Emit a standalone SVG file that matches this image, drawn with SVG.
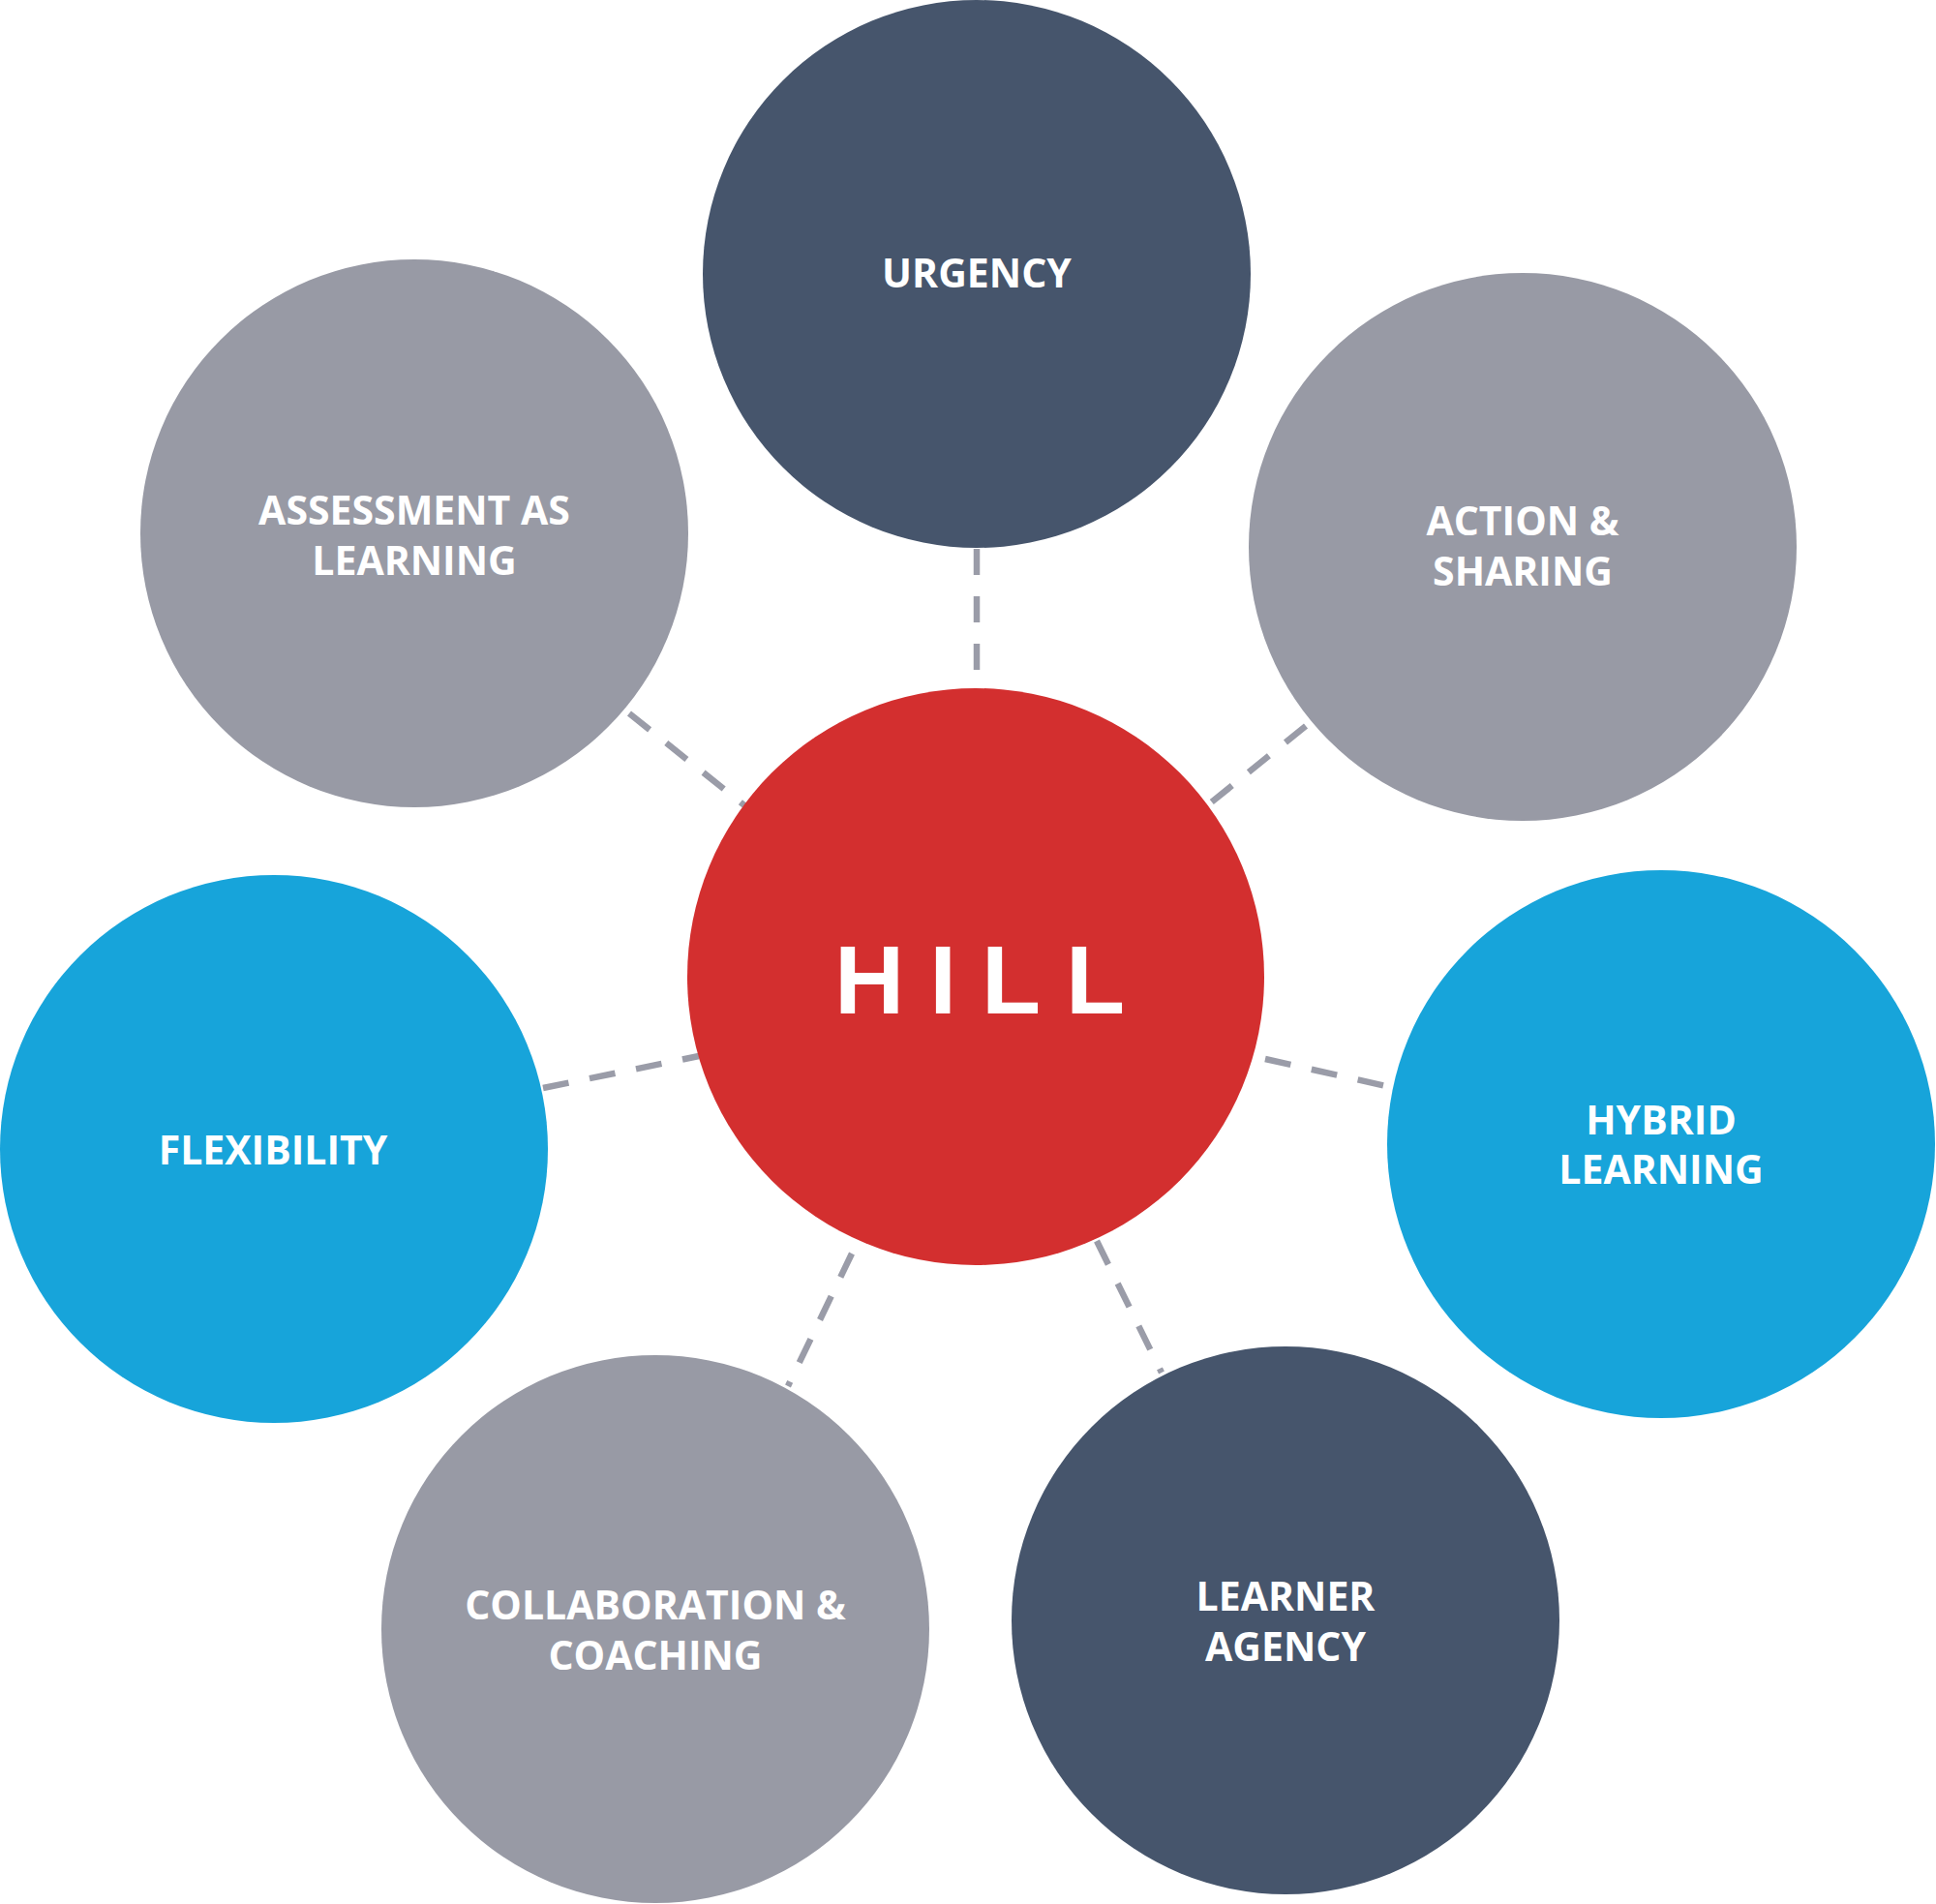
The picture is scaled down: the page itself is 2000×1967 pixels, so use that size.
<svg xmlns="http://www.w3.org/2000/svg" width="2000" height="1967" viewBox="0 0 2000 1967">
<style>
.bg{fill:#ffffff}
.navy{fill:#46556c}
.gray{fill:#989aa5}
.blue{fill:#17a4da}
.red{fill:#d32f2f}
.conn line{stroke:#9a9ca8;stroke-width:6.5;stroke-dasharray:27 22;fill:none}
.lbl{font-family:"Open Sans","Liberation Sans",sans-serif;font-weight:700;font-size:41px;fill:#ffffff;text-anchor:middle}
.hill{font-family:"Liberation Sans","Open Sans",sans-serif;font-weight:700;font-size:100px;fill:#ffffff;letter-spacing:26px}
</style>
<rect class="bg" x="0" y="0" width="2000" height="1967"/>
<g id="connectors" class="conn">
<line x1="1009" y1="567" x2="1009" y2="694"/>
<line x1="650" y1="737" x2="769" y2="832"/>
<line x1="1349" y1="750" x2="1250" y2="830"/>
<line x1="561" y1="1124" x2="722" y2="1091"/>
<line x1="1307" y1="1094" x2="1432" y2="1122"/>
<line x1="880" y1="1295" x2="814" y2="1432"/>
<line x1="1133" y1="1282" x2="1200" y2="1418"/>
</g>
<g id="urgency">
<circle class="navy" cx="1009" cy="283" r="283"/>
<text class="lbl" x="1009" y="297">URGENCY</text>
</g>
<g id="assessment">
<circle class="gray" cx="428" cy="551" r="283"/>
<text class="lbl" x="428" y="542">ASSESSMENT AS</text>
<text class="lbl" x="428" y="594">LEARNING</text>
</g>
<g id="action">
<circle class="gray" cx="1573" cy="565" r="283"/>
<text class="lbl" x="1573" y="553">ACTION &amp;</text>
<text class="lbl" x="1573" y="605">SHARING</text>
</g>
<g id="flexibility">
<circle class="blue" cx="283" cy="1187" r="283"/>
<text class="lbl" x="282" y="1203">FLEXIBILITY</text>
</g>
<g id="hybrid">
<circle class="blue" cx="1716" cy="1182" r="283"/>
<text class="lbl" x="1716" y="1172">HYBRID</text>
<text class="lbl" x="1716" y="1223">LEARNING</text>
</g>
<g id="collaboration">
<circle class="gray" cx="677" cy="1683" r="283"/>
<text class="lbl" x="677" y="1673">COLLABORATION &amp;</text>
<text class="lbl" x="677" y="1725">COACHING</text>
</g>
<g id="learner">
<circle class="navy" cx="1328" cy="1674" r="283"/>
<text class="lbl" x="1328" y="1664">LEARNER</text>
<text class="lbl" x="1328" y="1716">AGENCY</text>
</g>
<g id="hill">
<circle class="red" cx="1008" cy="1009" r="298"/>
<text class="hill" x="862" y="1047">HILL</text>
</g>
</svg>
